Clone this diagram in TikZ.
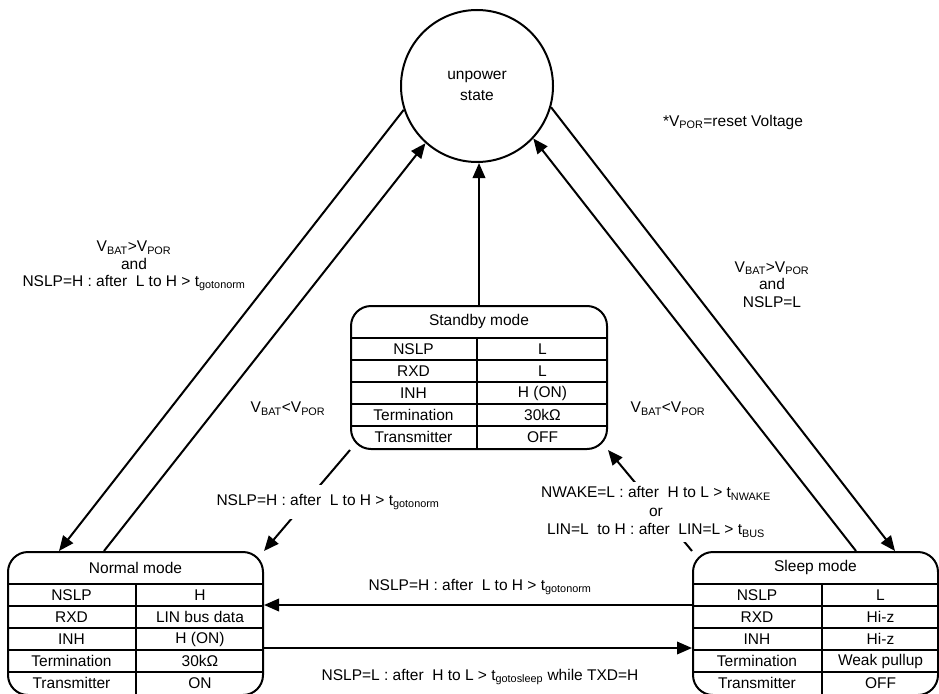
\documentclass[tikz,border=0pt]{standalone}
\usepackage{fontspec}
\setmainfont{Liberation Sans}
\usetikzlibrary{arrows.meta,calc}

% table inside a mode box: name, title, key column width, five values
\newcommand{\modetable}[8]{%
  \node (#1-title) at ($(#1.north)+(0,-16.5)$) {#2};
  \foreach \r in {33,55,77,99,121}
    \draw[tline] ($(#1.north west)+(0,-\r)$) -- ($(#1.north east)+(0,-\r)$);
  \coordinate (#1-split) at ($(#1.north west)+(#3,0)$);
  \draw[tline] ($(#1-split)+(0,-33)$) -- (#1-split |- #1.south);
  \foreach \key/\val [count=\k] in {NSLP/#4,RXD/#5,INH/#6,Termination/#7,Transmitter/#8} {
    \node (#1-key\k) at ($(#1.north west)+(#3/2,-22-22*\k)$) {\key};
    \node (#1-val\k) at ($(#1-split)!0.5!(#1.north east)+(0,-22-22*\k)$) {\val};
  }
}

\begin{document}
\begin{tikzpicture}[x=1pt, y=1pt, font=\fontsize{15.5}{17.5}\selectfont,
    modebox/.style={draw, line width=2pt, rounded corners=20pt, minimum height=143pt, inner sep=0pt},
    tline/.style={line width=2pt},
    link/.style={line width=2pt, -{Triangle[length=15pt, width=12.5pt]}},
    cond/.style={align=center, inner sep=1pt}]
  \useasboundingbox (0,0) rectangle (939,-693);

  \node[draw, circle, line width=2pt, minimum size=152pt, align=center,
        font=\fontsize{15.5}{21}\selectfont] (unpow) at (477,-86) {unpower\\state};

  % Standby
  \node[modebox, minimum width=256pt] (standby) at (479,-377.5) {};
  \modetable{standby}{Standby mode}{127}{L}{L}{H (ON)}{30kΩ}{OFF}

  % Normal
  \node[modebox, minimum width=255pt] (normal) at (135.5,-623.5) {};
  \modetable{normal}{Normal mode}{129}{H}{LIN bus data}{H (ON)}{30kΩ}{ON}

  % Sleep
  \node[modebox, minimum width=245pt] (sleep) at (815.5,-623.5) {};
  \modetable{sleep}{Sleep mode}{130}{L}{Hi-z}{Hi-z}{Weak pullup}{OFF}

  % power up / down
  \draw[link] (unpow.198) -- ($(normal.north west)+(52,0)$);
  \draw[link] ($(normal.north west)+(97,0)$) -- (unpow.228);
  \draw[link] (unpow.344) -- ($(sleep.north west)+(203,0)$);
  \draw[link] ($(sleep.north west)+(164,0)$) -- (unpow.317);
  \draw[link] (standby.north) -- (standby.north |- unpow.south);

  % mode changes
  \draw[link] (standby.south west) -- (normal.north east);
  \draw[link] (sleep.north west) -- (standby.south east);
  \draw[link] ($(sleep.north west)+(0,-54)$) -- ($(normal.north east)+(0,-54)$);
  \draw[link] ($(normal.north east)+(0,-97)$) -- ($(sleep.north west)+(0,-97)$);

  \node (note) at (733,-122) {*V\textsubscript{POR}=reset Voltage};
  \node[cond] (upL) at (134,-266) {V\textsubscript{BAT}>V\textsubscript{POR}\\and\\NSLP=H : after\ \ L to H > t\textsubscript{gotonorm}};
  \node[cond] (upR) at (772,-284.5) {V\textsubscript{BAT}>V\textsubscript{POR}\\and\\NSLP=L};
  \node (downL) at (288,-409) {V\textsubscript{BAT}<V\textsubscript{POR}};
  \node (downR) at (668,-409) {V\textsubscript{BAT}<V\textsubscript{POR}};
  \node[cond, fill=white, inner ysep=9pt] (tonorm) at (328,-502) {NSLP=H : after\ \ L to H > t\textsubscript{gotonorm}};
  \node[cond, fill=white, inner sep=5pt, font=\fontsize{15.5}{18.5}\selectfont] (wake) at (656,-512) {NWAKE=L : after\ \ H to L > t\textsubscript{NWAKE}\\or\\LIN=L\ \ to H : after\ \ LIN=L > t\textsubscript{BUS}};
  \node (s2n) at (480,-587) {NSLP=H : after\ \ L to H > t\textsubscript{gotonorm}};
  \node (n2s) at (480,-677) {NSLP=L : after\ \ H to L > t\textsubscript{gotosleep} while TXD=H};
\end{tikzpicture}
\end{document}
